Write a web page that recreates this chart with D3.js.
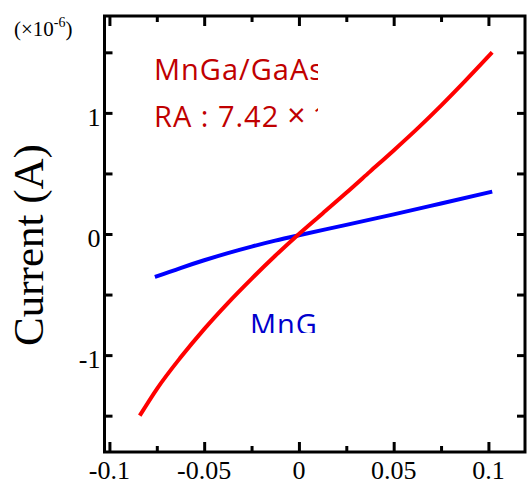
<!DOCTYPE html>
<html>
<head>
<meta charset="utf-8">
<script src="https://cdn.jsdelivr.net/npm/d3@7"></script>
<style>
  body { margin: 0; background: #fff; }
  svg { display: block; }
</style>
</head>
<body>
<svg></svg>
<script>
// chart values (voltage in V, current in 1e-6 A)
var redV = [-0.084, -0.075, -0.0625, -0.05, -0.0375, -0.025, -0.0125, 0, 0.0125, 0.025, 0.0375, 0.05, 0.0625, 0.075, 0.0875, 0.102];
var redI = [-1.50, -1.28, -1.02, -0.785, -0.57, -0.37, -0.18, 0, 0.17, 0.34, 0.515, 0.69, 0.87, 1.06, 1.26, 1.50];
var blueV = [-0.076, -0.0625, -0.05, -0.0375, -0.025, -0.0125, 0, 0.025, 0.05, 0.075, 0.102];
var blueI = [-0.355, -0.281, -0.217, -0.158, -0.104, -0.055, -0.01, 0.075, 0.162, 0.252, 0.35];
var xMajor = [-0.1, -0.05, 0, 0.05, 0.1];
var xMinor = [-0.075, -0.025, 0.025, 0.075];
var xLabels = ["-0.1", "-0.05", "0", "0.05", "0.1"];
var yTicks = [-1.5, -1, -0.5, 0, 0.5, 1, 1.5];
var yLabelVals = [-1, 0, 1];
var yLabels = ["-1", "0", "1"];

var width = 528;
var height = 483;
var plotLeft = 104.5, plotRight = 525, plotTop = 16, plotBottom = 452;

var svg = d3.select("svg")
    .attr("width", width)
    .attr("height", height);

var xScale = d3.scaleLinear()
    .domain([-0.1026, 0.1193])
    .range([plotLeft, plotRight]);

var yScale = d3.scaleLinear()
    .domain([-1.8, 1.8])
    .range([plotBottom, plotTop]);

var serif = "'Liberation Serif', 'Times New Roman', serif";
var sans = "'Open Sans', 'Noto Sans', sans-serif";

// axes, ticks pointing inward
function styleAxis(g) {
    g.select(".domain").remove();
    g.selectAll(".tick line").attr("stroke", "#000").attr("stroke-width", 3);
    g.selectAll(".tick text").remove();
}

svg.append("g")
    .attr("transform", "translate(0," + plotBottom + ")")
    .call(d3.axisBottom(xScale).tickValues(xMajor).tickSize(-10))
    .call(styleAxis);
svg.append("g")
    .attr("transform", "translate(0," + plotBottom + ")")
    .call(d3.axisBottom(xScale).tickValues(xMinor).tickSize(-6))
    .call(styleAxis);
svg.append("g")
    .attr("transform", "translate(0," + plotTop + ")")
    .call(d3.axisTop(xScale).tickValues(xMajor).tickSize(-10))
    .call(styleAxis);
svg.append("g")
    .attr("transform", "translate(0," + plotTop + ")")
    .call(d3.axisTop(xScale).tickValues(xMinor).tickSize(-6))
    .call(styleAxis);
svg.append("g")
    .attr("transform", "translate(" + plotLeft + ",0)")
    .call(d3.axisLeft(yScale).tickValues(yTicks).tickSize(-8))
    .call(styleAxis);
svg.append("g")
    .attr("transform", "translate(" + plotRight + ",0)")
    .call(d3.axisRight(yScale).tickValues(yTicks).tickSize(-8))
    .call(styleAxis);

// tick labels
svg.selectAll(".xlab")
    .data(xMajor)
    .enter()
    .append("text")
        .attr("class", "xlab")
        .attr("x", d => xScale(d))
        .attr("y", plotBottom + 27)
        .attr("text-anchor", "middle")
        .style("font-family", serif)
        .style("font-size", "26px")
        .text((d, i) => xLabels[i]);

svg.selectAll(".ylab")
    .data(yLabelVals)
    .enter()
    .append("text")
        .attr("class", "ylab")
        .attr("x", plotLeft - 4)
        .attr("y", d => yScale(d) + 13)
        .attr("text-anchor", "end")
        .style("font-family", serif)
        .style("font-size", "26px")
        .text((d, i) => yLabels[i]);

// frame
svg.append("rect")
    .attr("x", plotLeft)
    .attr("y", plotTop)
    .attr("width", plotRight - plotLeft)
    .attr("height", plotBottom - plotTop)
    .attr("fill", "none")
    .attr("stroke", "#000")
    .attr("stroke-width", 3);

// axis title
svg.append("text")
    .attr("transform", "translate(43,245) rotate(-90)")
    .attr("text-anchor", "middle")
    .style("font-family", serif)
    .style("font-size", "43px")
    .text("Current (A)");

var unit = svg.append("text")
    .attr("x", 14)
    .attr("y", 36)
    .style("font-family", serif)
    .style("font-size", "21px");
unit.append("tspan").text("(\u00d710");
unit.append("tspan").attr("dy", -9).style("font-size", "14px").text("-6");
unit.append("tspan").attr("dy", 9).text(")");

// curves
var line = d3.line()
    .x(d => xScale(d[0]))
    .y(d => yScale(d[1]))
    .curve(d3.curveMonotoneX);

svg.append("path")
    .datum(blueV.map((v, i) => [v, blueI[i]]))
    .attr("d", line)
    .attr("fill", "none")
    .attr("stroke", "#0000ff")
    .attr("stroke-width", 4);

svg.append("path")
    .datum(redV.map((v, i) => [v, redI[i]]))
    .attr("d", line)
    .attr("fill", "none")
    .attr("stroke", "#ff0000")
    .attr("stroke-width", 4);

// clipped annotation text boxes
var defs = svg.append("defs");
defs.append("clipPath").attr("id", "clipRed")
    .append("rect").attr("x", 140).attr("y", 40).attr("width", 178).attr("height", 100);
defs.append("clipPath").attr("id", "clipBlue")
    .append("rect").attr("x", 240).attr("y", 300).attr("width", 78).attr("height", 33);

var note = svg.append("g").attr("clip-path", "url(#clipRed)")
    .style("font-family", sans)
    .style("font-size", "29px")
    .style("letter-spacing", "1px")
    .attr("fill", "#c00000");
note.append("text").attr("x", 154).attr("y", 80).text("MnGa/GaAs");
var ra = note.append("text").attr("x", 154).attr("y", 127);
ra.append("tspan").text("RA : 7.42");
ra.append("tspan").attr("dx", 8).style("font-size", "32px").text("\u00d7");
ra.append("tspan").attr("dx", 6).text("10");

svg.append("g").attr("clip-path", "url(#clipBlue)")
    .append("text")
        .attr("x", 250)
        .attr("y", 335)
        .style("font-family", sans)
        .style("font-size", "29px")
        .style("letter-spacing", "1px")
        .attr("fill", "#0000cc")
        .text("MnGa");
</script>
</body>
</html>
